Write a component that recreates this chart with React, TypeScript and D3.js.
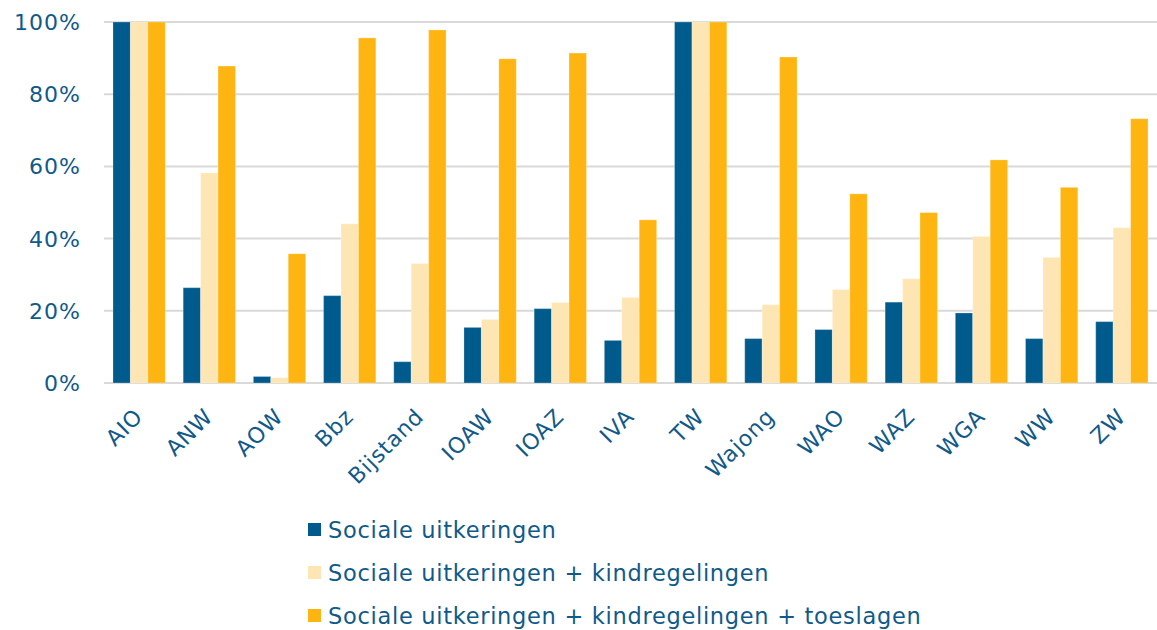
import * as d3 from "d3";
import React from "react";

const categories = ["AIO", "ANW", "AOW", "Bbz", "Bijstand", "IOAW", "IOAZ", "IVA", "TW", "Wajong", "WAO", "WAZ", "WGA", "WW", "ZW"];
const seriesNames = [
  "Sociale uitkeringen",
  "Sociale uitkeringen + kindregelingen",
  "Sociale uitkeringen + kindregelingen + toeslagen",
];
const sociaal = [100, 26.4, 1.8, 24.2, 5.9, 15.4, 20.6, 11.8, 100, 12.3, 14.8, 22.4, 19.4, 12.3, 17.0];
const kind = [100, 58.2, 1.5, 44.1, 33.1, 17.6, 22.3, 23.7, 100, 21.7, 25.9, 28.9, 40.6, 34.8, 43.0];
const toeslagen = [100, 87.8, 35.8, 95.6, 97.8, 89.8, 91.4, 45.2, 100, 90.3, 52.4, 47.2, 61.8, 54.2, 73.2];
const yTicks = [0, 20, 40, 60, 80, 100];
const colors = ["#005b8d", "#fee6b4", "#ffb511"];

const W = 1157;
const H = 630;
const margin = { left: 104, right: 0, top: 22, bottom: 247 };
const textColor = "#0f5a8a";
const font = "'DejaVu Sans', Verdana, sans-serif";

export default function App() {
  const series = [sociaal, kind, toeslagen];
  const x = d3.scaleBand().domain(categories).range([margin.left, W - margin.right]).paddingInner(0.255).paddingOuter(0.128);
  const x1 = d3.scaleBand().domain(["0", "1", "2"]).range([0, x.bandwidth()]);
  const y = d3.scaleLinear().domain([0, 100]).range([H - margin.bottom, margin.top]);

  return (
    <svg width={W} height={H} style={{ position: "absolute", left: 0, top: 0 }} fontFamily={font}>
      {yTicks.map((t) => (
        <g key={t}>
          <line x1={margin.left} x2={W} y1={y(t)} y2={y(t)} stroke="#d9d9d9" strokeWidth={2} />
          <text x={81} y={y(t)} dy="0.36em" textAnchor="end" fontSize={22} letterSpacing={1} fill={textColor}>
            {t}%
          </text>
        </g>
      ))}
      {categories.map((c, i) => (
        <g key={c} transform={`translate(${x(c)},0)`}>
          {series.map((s, j) => (
            <rect
              key={j}
              x={x1(String(j))}
              width={x1.bandwidth()}
              y={y(s[i])}
              height={y(0) - y(s[i])}
              fill={colors[j]}
              stroke="#ffffff"
              strokeOpacity={0.25}
              strokeWidth={1}
            />
          ))}
        </g>
      ))}
      {categories.map((c) => {
        const cx = (x(c) as number) + x.bandwidth() / 2 + 5;
        const cy = 418;
        return (
          <text key={c} transform={`translate(${cx},${cy}) rotate(-45)`} textAnchor="end" fontSize={22} letterSpacing={0.8} fill={textColor}>
            {c}
          </text>
        );
      })}
      {seriesNames.map((n, j) => (
        <g key={n} transform={`translate(308, ${530 + j * 43})`}>
          <rect x={0} y={-7} width={13} height={13} fill={colors[j]} />
          <text x={20} y={0} dy="0.36em" fontSize={22.5} letterSpacing={0.7} fill={textColor}>
            {n}
          </text>
        </g>
      ))}
    </svg>
  );
}
